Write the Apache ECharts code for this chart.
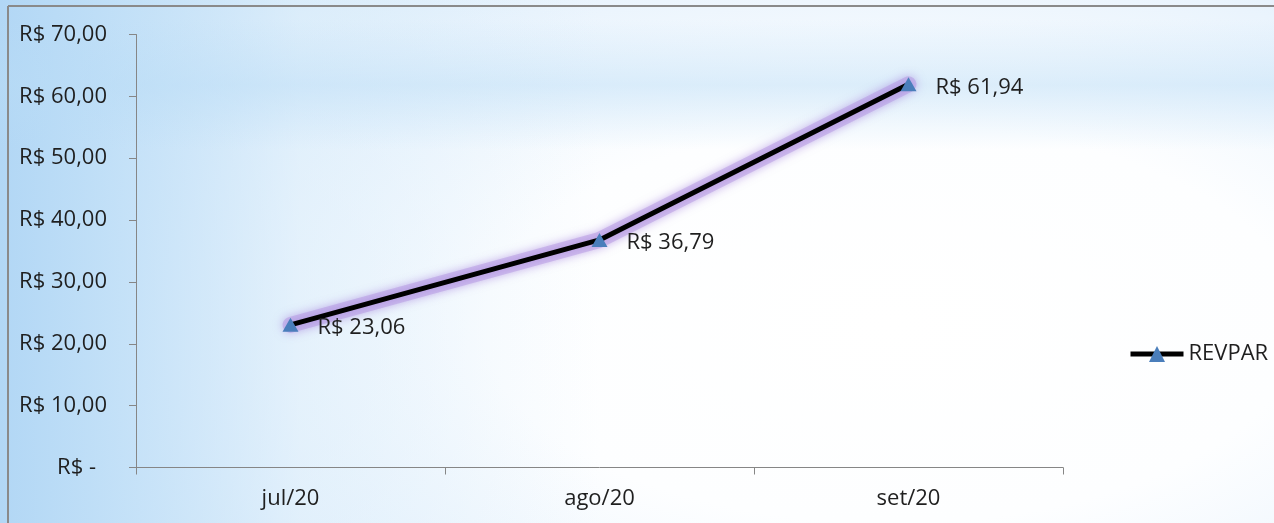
<!DOCTYPE html>
<html>
<head>
<meta charset="utf-8">
<script src="https://cdn.jsdelivr.net/npm/echarts@6/dist/echarts.min.js"></script>
<style>
  html, body { margin: 0; padding: 0; }
  body {
    width: 1274px; height: 523px; overflow: hidden;
    background:
      linear-gradient(to bottom, rgba(185,220,246,0) 20px, rgba(185,220,246,0.45) 85px, rgba(185,220,246,0) 150px),
      linear-gradient(to right, rgba(178,215,245,1) 0px, rgba(190,222,247,0.85) 120px, rgba(215,235,250,0.5) 300px, rgba(255,255,255,0) 600px),
      radial-gradient(ellipse 80% 95% at 70% 62%, #ffffff 0%, #fdfeff 40%, #eaf4fd 72%, #d3e9f9 100%);
  }
  #chart { width: 1274px; height: 523px; }
</style>
</head>
<body>
<div id="chart"></div>
<script>
const categories = ['jul/20', 'ago/20', 'set/20'];
const revparValues = [23.06, 36.79, 61.94];
const seriesName = 'REVPAR';
const yMin = 0, yMax = 70, yStep = 10;

function brl(v) {
  if (v === 0) return 'R$ -\u2002';
  return 'R$ ' + v.toFixed(2).replace('.', ',');
}

const font = '"Open Sans", "Noto Sans", sans-serif';
const fs = 22;
const textColor = '#1f1f1f';
const axisColor = '#868686';

const chart = echarts.init(document.getElementById('chart'), null, { renderer: 'canvas' });
chart.setOption({
  backgroundColor: 'transparent',
  animation: false,
  textStyle: { fontFamily: font },
  grid: { left: 136, right: 211, top: 34.5, bottom: 55.5, containLabel: false },
  legend: {
    data: [seriesName],
    left: 1128, top: 343, padding: 0,
    itemWidth: 53, itemHeight: 20, itemGap: 6,
    lineStyle: { width: 5, color: '#000' },
    textStyle: { fontFamily: font, fontSize: fs, color: textColor }
  },
  xAxis: {
    type: 'category',
    data: categories,
    boundaryGap: true,
    axisLine: { lineStyle: { color: axisColor, width: 1 } },
    axisTick: { show: true, length: 7, lineStyle: { color: axisColor } },
    axisLabel: { fontFamily: font, fontSize: fs, color: textColor, margin: 20 },
    splitLine: { show: false }
  },
  yAxis: {
    type: 'value',
    min: yMin, max: yMax, interval: yStep,
    axisLine: { show: true, lineStyle: { color: axisColor, width: 1 } },
    axisTick: { show: true, length: 7, lineStyle: { color: axisColor } },
    axisLabel: { fontFamily: font, fontSize: fs, color: textColor, margin: 29, formatter: brl },
    splitLine: { show: false }
  },
  series: [{
    name: 'glow',
    type: 'line',
    data: revparValues,
    symbol: 'none',
    silent: true,
    lineStyle: {
      color: 'rgba(180, 150, 226, 0.5)', width: 16, cap: 'round', join: 'round',
      shadowColor: 'rgba(150, 105, 215, 1)', shadowBlur: 10
    },
    z: 2
  }, {
    name: seriesName,
    type: 'line',
    data: revparValues,
    symbol: 'triangle',
    symbolSize: [16, 14],
    itemStyle: { color: '#4A7EBB' },
    lineStyle: { color: '#000000', width: 5 },
    label: {
      show: true, position: 'right', distance: 19, offset: [0, 3],
      fontFamily: font, fontSize: fs, color: textColor,
      formatter: p => brl(p.value)
    },
    z: 3
  }],
  graphic: [
    { type: 'line', shape: { x1: 8, y1: 6, x2: 1274, y2: 6 }, style: { stroke: '#8a8a8a', lineWidth: 2 }, silent: true },
    { type: 'line', shape: { x1: 8, y1: 6, x2: 8, y2: 523 }, style: { stroke: '#8a8a8a', lineWidth: 2 }, silent: true }
  ]
});
</script>
</body>
</html>
